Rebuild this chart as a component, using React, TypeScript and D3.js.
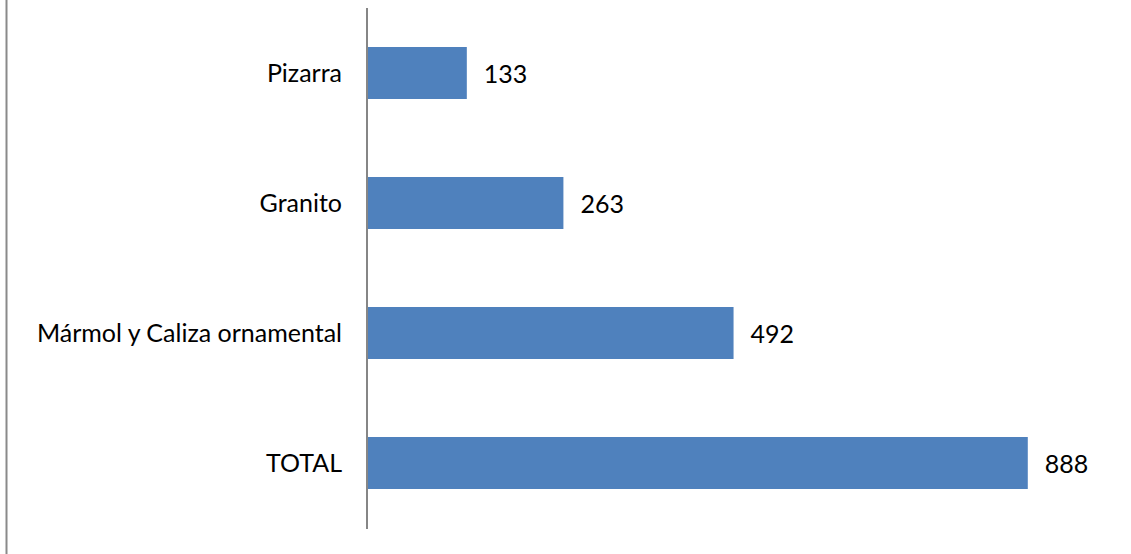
import React from "react";
import * as d3 from "d3";

const categories = ["Pizarra", "Granito", "Mármol y Caliza ornamental", "TOTAL"];
const values = [133, 263, 492, 888];
const xDomainMax = 1000;

const W = 1131;
const H = 554;
const FONT = "Lato, 'Open Sans', sans-serif";

export default function App() {
  const axisX = 367;
  const x = d3.scaleLinear().domain([0, xDomainMax]).range([axisX + 1, 1111]);
  const y = d3
    .scaleBand<string>()
    .domain(categories)
    .range([8, 528])
    .paddingInner(0.6)
    .paddingOuter(0.3);

  return (
    <div style={{ position: "fixed", left: 0, top: 0 }}>
      <svg width={W} height={H} style={{ display: "block", background: "#fff" }}>
        <line x1={6.5} x2={6.5} y1={0} y2={H} stroke="#8a8a8a" strokeWidth={2} />
        {categories.map((c, i) => {
          const y0 = y(c)!;
          const bw = y.bandwidth();
          const cy = y0 + bw / 2;
          return (
            <g key={c}>
              <rect x={x(0)} y={y0} width={x(values[i]) - x(0)} height={bw} fill="#4F81BD" />
              <text
                x={axisX - 25}
                y={cy}
                dy="0.35em"
                textAnchor="end"
                fontFamily={FONT}
                fontSize={25}
                fill="#000"
              >
                {c}
              </text>
              <text
                x={x(values[i]) + 17}
                y={cy}
                dy="0.4em"
                textAnchor="start"
                fontFamily={FONT}
                fontSize={25}
                fill="#000"
              >
                {values[i]}
              </text>
            </g>
          );
        })}
        <line x1={axisX} x2={axisX} y1={8} y2={529} stroke="#868686" strokeWidth={2} />
      </svg>
    </div>
  );
}
